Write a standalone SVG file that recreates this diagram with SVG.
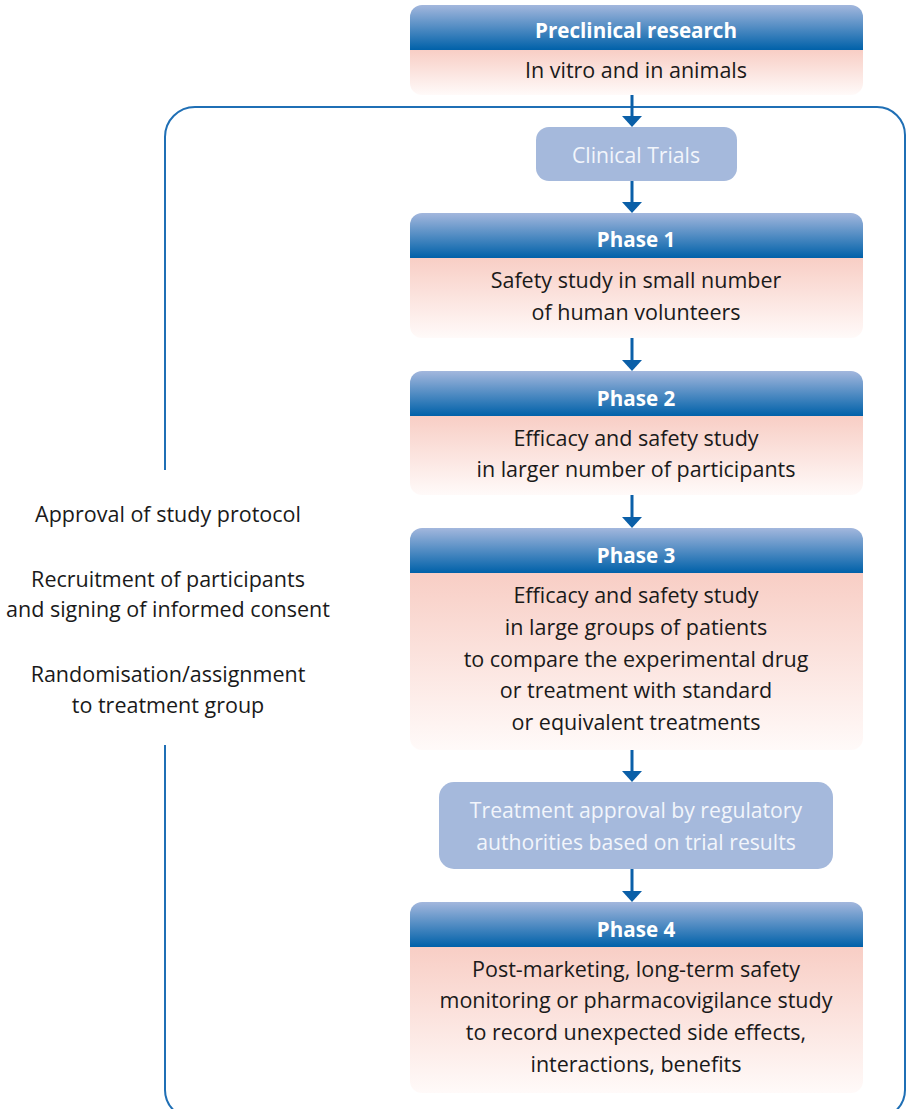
<svg xmlns="http://www.w3.org/2000/svg" width="909" height="1109" viewBox="0 0 909 1109">
<defs>
<linearGradient id="hdr" x1="0" y1="0" x2="0" y2="1">
<stop offset="0" stop-color="#a3b7dd"/>
<stop offset="1" stop-color="#0061a9"/>
</linearGradient>
<linearGradient id="bdy" x1="0" y1="0" x2="0" y2="1">
<stop offset="0" stop-color="#f8cec5"/>
<stop offset="1" stop-color="#fffaf9"/>
</linearGradient>
<style>
.hdr{fill:url(#hdr);}
.bdy{fill:url(#bdy);}
.soft{fill:#a5b9dc;}
.ht{font-family:"Open Sans","Noto Sans",sans-serif;font-weight:bold;font-size:20.6px;fill:#ffffff;text-anchor:middle;}
.bt{font-family:"Open Sans","Noto Sans",sans-serif;font-size:21.5px;fill:#1a1a1a;text-anchor:middle;}
.st{font-family:"Open Sans","Noto Sans",sans-serif;font-size:21.2px;fill:#f2f5fb;text-anchor:middle;}
.lt{font-family:"Open Sans","Noto Sans",sans-serif;font-size:21.5px;fill:#1a1a1a;text-anchor:middle;}
.frame{fill:none;stroke:#1f6fb5;stroke-width:2;}
.cl{stroke:#0a5fa8;stroke-width:3;fill:none;}
.ah{fill:#0a5fa8;}
</style>
</defs>
<rect width="909" height="1109" fill="#ffffff"/>

<g id="connectors">
<path class="frame" d="M165,470 V137 A30,30 0 0 1 195,107 H877 A28,28 0 0 1 905,135 V1090 A28,28 0 0 1 877,1118 H193 A28,28 0 0 1 165,1090 V745"/>
<path class="cl" d="M632,95 V118"/><polygon class="ah" points="622,116 642,116 632,127"/>
<path class="cl" d="M632,181 V204"/><polygon class="ah" points="622,202 642,202 632,213"/>
<path class="cl" d="M632,338 V362"/><polygon class="ah" points="622,360 642,360 632,371"/>
<path class="cl" d="M632,495 V519"/><polygon class="ah" points="622,517 642,517 632,528"/>
<path class="cl" d="M632,750 V773"/><polygon class="ah" points="622,771 642,771 632,782"/>
<path class="cl" d="M632,869 V893"/><polygon class="ah" points="622,891 642,891 632,902"/>
</g>

<g id="preclinical">
<path class="hdr" d="M410,17 a12,12 0 0 1 12,-12 h429 a12,12 0 0 1 12,12 v33 h-453 z"/>
<path class="bdy" d="M410,50 h453 v33 a12,12 0 0 1 -12,12 h-429 a12,12 0 0 1 -12,-12 z"/>
<text class="ht" x="636" y="38">Preclinical research</text>
<text class="bt" x="636" y="78">In vitro and in animals</text>
</g>

<g id="clinical-trials">
<rect class="soft" x="536" y="127" width="201" height="54" rx="13"/>
<text class="st" x="636" y="163">Clinical Trials</text>
</g>

<g id="phase1">
<path class="hdr" d="M410,225 a12,12 0 0 1 12,-12 h429 a12,12 0 0 1 12,12 v33 h-453 z"/>
<path class="bdy" d="M410,258 h453 v68 a12,12 0 0 1 -12,12 h-429 a12,12 0 0 1 -12,-12 z"/>
<text class="ht" x="636" y="247">Phase 1</text>
<text class="bt" x="636" y="288">Safety study in small number</text>
<text class="bt" x="636" y="320">of human volunteers</text>
</g>

<g id="phase2">
<path class="hdr" d="M410,383 a12,12 0 0 1 12,-12 h429 a12,12 0 0 1 12,12 v33 h-453 z"/>
<path class="bdy" d="M410,416 h453 v67 a12,12 0 0 1 -12,12 h-429 a12,12 0 0 1 -12,-12 z"/>
<text class="ht" x="636" y="406">Phase 2</text>
<text class="bt" x="636" y="446">Efficacy and safety study</text>
<text class="bt" x="636" y="477">in larger number of participants</text>
</g>

<g id="phase3">
<path class="hdr" d="M410,540 a12,12 0 0 1 12,-12 h429 a12,12 0 0 1 12,12 v33 h-453 z"/>
<path class="bdy" d="M410,573 h453 v165 a12,12 0 0 1 -12,12 h-429 a12,12 0 0 1 -12,-12 z"/>
<text class="ht" x="636" y="563">Phase 3</text>
<text class="bt" x="636" y="603">Efficacy and safety study</text>
<text class="bt" x="636" y="635">in large groups of patients</text>
<text class="bt" x="636" y="667">to compare the experimental drug</text>
<text class="bt" x="636" y="698">or treatment with standard</text>
<text class="bt" x="636" y="730">or equivalent treatments</text>
</g>

<g id="approval">
<rect class="soft" x="439" y="782" width="394" height="87" rx="15"/>
<text class="st" x="636" y="818">Treatment approval by regulatory</text>
<text class="st" x="636" y="850">authorities based on trial results</text>
</g>

<g id="phase4">
<path class="hdr" d="M410,914 a12,12 0 0 1 12,-12 h429 a12,12 0 0 1 12,12 v33 h-453 z"/>
<path class="bdy" d="M410,947 h453 v134 a12,12 0 0 1 -12,12 h-429 a12,12 0 0 1 -12,-12 z"/>
<text class="ht" x="636" y="937">Phase 4</text>
<text class="bt" x="636" y="977">Post-marketing, long-term safety</text>
<text class="bt" x="636" y="1008">monitoring or pharmacovigilance study</text>
<text class="bt" x="636" y="1040">to record unexpected side effects,</text>
<text class="bt" x="636" y="1072">interactions, benefits</text>
</g>

<g id="side-notes">
<text class="lt" x="168" y="522">Approval of study protocol</text>
<text class="lt" x="168" y="587">Recruitment of participants</text>
<text class="lt" x="168" y="617">and signing of informed consent</text>
<text class="lt" x="168" y="682">Randomisation/assignment</text>
<text class="lt" x="168" y="713">to treatment group</text>
</g>
</svg>
